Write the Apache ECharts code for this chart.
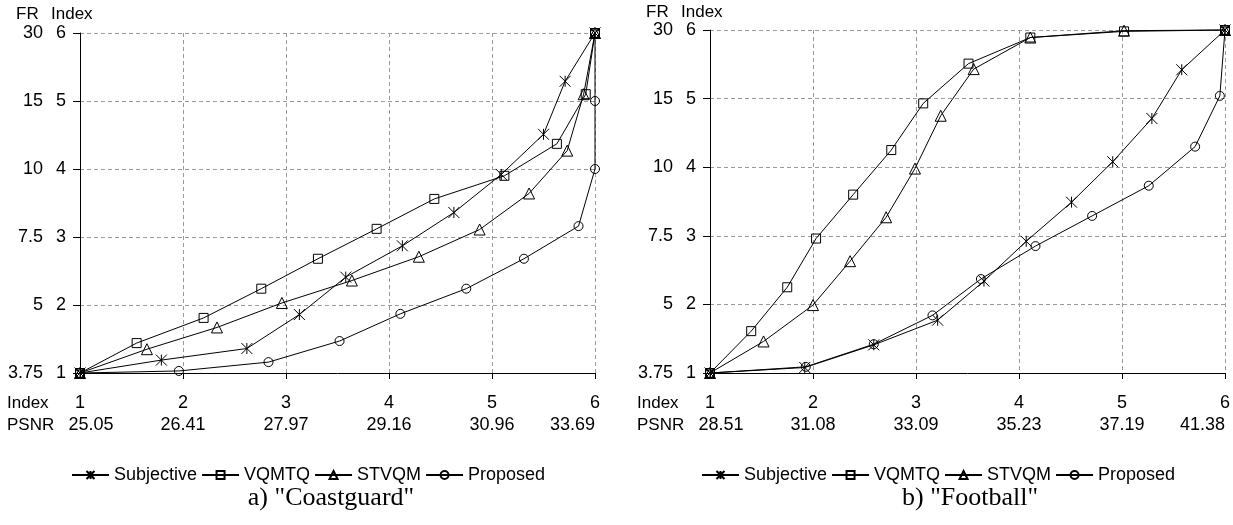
<!DOCTYPE html>
<html>
<head>
<meta charset="utf-8">
<script src="https://cdn.jsdelivr.net/npm/echarts@6/dist/echarts.min.js"></script>
<style>
html,body{margin:0;padding:0;background:#fff;}
#main{width:1233px;height:525px;}
</style>
</head>
<body>
<div id="main"></div>
<script>
// ---------- data ----------
const indexTicks = [1, 2, 3, 4, 5, 6];
const frTicks = ['3.75', '5', '7.5', '10', '15', '30'];
const cgPsnr = ['25.05', '26.41', '27.97', '29.16', '30.96', '33.69'];
const fbPsnr = ['28.51', '31.08', '33.09', '35.23', '37.19', '41.38'];
const seriesNames = ['Subjective', 'VQMTQ', 'STVQM', 'Proposed'];
const captions = ['a) "Coastguard"', 'b) "Football"'];

// Coastguard: [index position, FR index]
const cgSubjective = [[1,1],[1.79,1.19],[2.62,1.36],[3.13,1.86],[3.58,2.41],[4.13,2.87],[4.63,3.36],[5.09,3.92],[5.50,4.51],[5.71,5.29],[6,6]];
const cgVQMTQ = [[1,1],[1.55,1.44],[2.20,1.81],[2.76,2.24],[3.31,2.68],[3.88,3.12],[4.44,3.56],[5.12,3.90],[5.63,4.37],[5.91,5.10],[6,6]];
const cgSTVQM = [[1,1],[1.65,1.35],[2.33,1.67],[2.96,2.03],[3.64,2.36],[4.29,2.71],[4.88,3.11],[5.36,3.64],[5.73,4.27],[5.89,5.10],[6,6]];
const cgProposed = [[1,1],[1.96,1.03],[2.83,1.16],[3.52,1.47],[4.11,1.87],[4.75,2.24],[5.31,2.68],[5.84,3.16],[6,4],[6,5],[6,6]];

// Football
const fbSubjective = [[1,1],[1.92,1.08],[2.59,1.41],[3.21,1.77],[3.66,2.34],[4.07,2.92],[4.51,3.49],[4.91,4.08],[5.29,4.71],[5.58,5.42],[6,6]];
const fbVQMTQ = [[1,1],[1.40,1.61],[1.75,2.25],[2.03,2.96],[2.39,3.60],[2.76,4.25],[3.07,4.93],[3.51,5.51],[4.11,5.89],[5.02,5.98],[6,6]];
const fbSTVQM = [[1,1],[1.52,1.46],[2.00,1.99],[2.36,2.63],[2.71,3.27],[2.99,3.98],[3.24,4.75],[3.56,5.43],[4.11,5.89],[5.02,5.99],[6,6]];
const fbProposed = [[1,1],[1.93,1.09],[2.59,1.42],[3.16,1.84],[3.63,2.37],[4.16,2.85],[4.71,3.29],[5.26,3.73],[5.71,4.30],[5.95,5.04],[6,6]];

// ---------- styling ----------
const FONT = '"Liberation Sans", Arial, sans-serif';
const FS = 18;   // numbers, legend
const FSW = 17;  // word headers
const symbols = {
  Subjective: {symbol: 'path://M0,0L10,10M10,0L0,10M5,0L5,10', size: 11},
  VQMTQ: {symbol: 'rect', size: 9},
  STVQM: {symbol: 'triangle', size: 11},
  Proposed: {symbol: 'circle', size: 9}
};
const grids = [
  {left: 80, top: 33, width: 515, height: 340},
  {left: 710, top: 30, width: 515, height: 343}
];
const psnrs = [cgPsnr, fbPsnr];
const dataSets = [
  [cgSubjective, cgVQMTQ, cgSTVQM, cgProposed],
  [fbSubjective, fbVQMTQ, fbSTVQM, fbProposed]
];
const grey = '#9a9a9a';

const xAxes = [], yAxes = [], series = [], legends = [], graphics = [];
grids.forEach((g, gi) => {
  // Index x axis
  xAxes.push({
    type: 'value', gridIndex: gi, position: 'bottom', min: 1, max: 6, interval: 1,
    axisLine: {show: true, lineStyle: {color: '#000', width: 1}},
    axisTick: {show: true, length: 6, lineStyle: {color: '#000'}},
    splitLine: {show: true, lineStyle: {color: grey, type: [4, 3], width: 1}},
    axisLabel: {show: true, margin: 21, color: '#000', fontFamily: FONT, fontSize: FS,
      showMinLabel: true, showMaxLabel: true,
      formatter: v => String(indexTicks[Math.round(v) - 1])}
  });
  // PSNR x axis
  const ps = psnrs[gi];
  xAxes.push({
    type: 'value', gridIndex: gi, position: 'bottom', offset: 0, min: 1, max: 6, interval: 1,
    axisLine: {show: false}, axisTick: {show: false}, splitLine: {show: false},
    axisLabel: {show: true, margin: 43, color: '#000', fontFamily: FONT, fontSize: FS,
      showMinLabel: true, showMaxLabel: true, alignMaxLabel: 'right',
      formatter: v => {
        const i = Math.round(v) - 1;
        return i === 0 ? '{first|' + ps[i] + '}' : ps[i];
      },
      rich: {first: {padding: [0, 0, 0, 22], fontFamily: FONT, fontSize: FS, color: '#000'}}
    }
  });
  // Index y axis
  yAxes.push({
    type: 'value', gridIndex: gi, position: 'left', min: 1, max: 6, interval: 1,
    axisLine: {show: true, lineStyle: {color: '#000', width: 1}},
    axisTick: {show: true, length: 7, lineStyle: {color: '#000'}},
    splitLine: {show: true, lineStyle: {color: grey, type: [4, 3], width: 1}},
    axisLabel: {show: true, margin: 14, color: '#000', fontFamily: FONT, fontSize: FS,
      showMinLabel: true, showMaxLabel: true,
      formatter: v => String(indexTicks[Math.round(v) - 1])}
  });
  // FR y axis
  yAxes.push({
    type: 'value', gridIndex: gi, position: 'left', offset: 0, min: 1, max: 6, interval: 1,
    axisLine: {show: false}, axisTick: {show: false}, splitLine: {show: false},
    axisLabel: {show: true, margin: 37, color: '#000', fontFamily: FONT, fontSize: FS,
      showMinLabel: true, showMaxLabel: true,
      formatter: v => frTicks[Math.round(v) - 1]}
  });

  seriesNames.forEach((name, si) => {
    series.push({
      type: 'line', name: name, xAxisIndex: gi * 2, yAxisIndex: gi * 2,
      data: dataSets[gi][si],
      symbol: symbols[name].symbol, symbolSize: symbols[name].size,
      showAllSymbol: true, clip: false,
      lineStyle: {color: '#000', width: 1},
      itemStyle: {color: 'rgba(255,255,255,0)', borderColor: '#000', borderWidth: 1},
      emphasis: {disabled: true},
      animation: false
    });
  });

  legends.push({
    data: seriesNames, left: gi === 0 ? 66 : 696, top: 461,
    itemWidth: 37, itemHeight: 10, itemGap: 4,
    textStyle: {color: '#000', fontFamily: FONT, fontSize: FS},
    selectedMode: false
  });

  const hx = gi === 0 ? 0 : 630;
  const hy = gi === 0 ? 0 : -2;
  graphics.push(
    {type: 'text', left: 16 + hx, top: 6 + hy, style: {text: 'FR', font: FSW + 'px ' + FONT, fill: '#000'}},
    {type: 'text', left: 51 + hx, top: 6 + hy, style: {text: 'Index', font: FSW + 'px ' + FONT, fill: '#000'}},
    {type: 'text', left: 7 + hx, top: 395, style: {text: 'Index', font: FSW + 'px ' + FONT, fill: '#000'}},
    {type: 'text', left: 7 + hx, top: 417, style: {text: 'PSNR', font: FSW + 'px ' + FONT, fill: '#000'}},
    {type: 'text', x: (gi === 0 ? 331 : 970), y: 498,
      style: {text: captions[gi], font: '26px "Liberation Serif", "Times New Roman", serif', fill: '#000',
        textAlign: 'center', textVerticalAlign: 'middle'}}
  );
});

const chart = echarts.init(document.getElementById('main'), null, {renderer: 'canvas'});
chart.setOption({
  animation: false,
  backgroundColor: '#fff',
  grid: grids,
  xAxis: xAxes,
  yAxis: yAxes,
  legend: legends,
  series: series,
  graphic: graphics
});
</script>
</body>
</html>
